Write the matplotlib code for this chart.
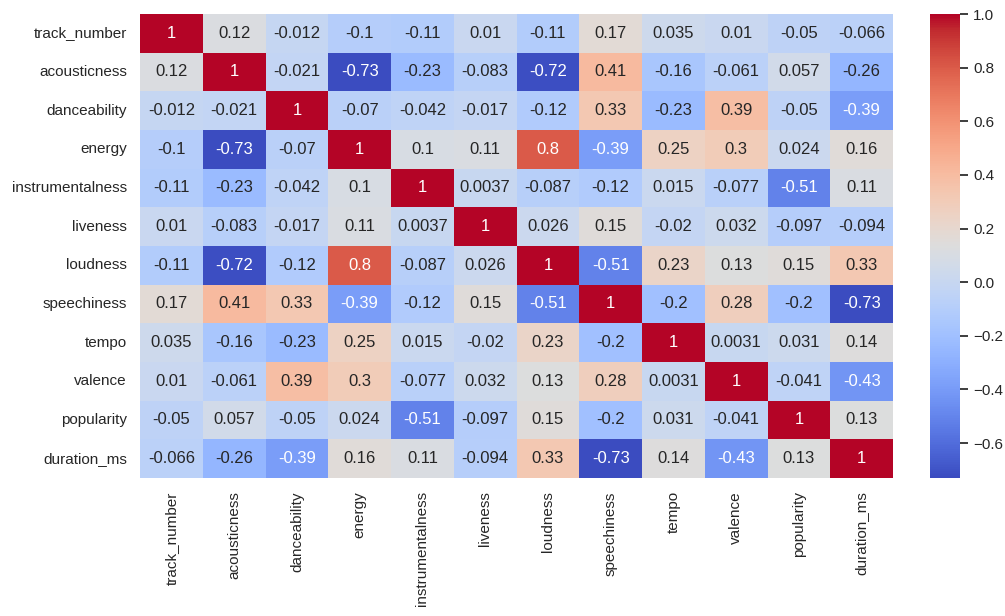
import matplotlib
matplotlib.use("Agg")
import matplotlib.pyplot as plt
import numpy as np
import pandas as pd
import seaborn as sns

features = ["track_number", "acousticness", "danceability", "energy",
            "instrumentalness", "liveness", "loudness", "speechiness",
            "tempo", "valence", "popularity", "duration_ms"]

track_number = [1, 0.12, -0.012, -0.1, -0.11, 0.01, -0.11, 0.17, 0.035, 0.01, -0.05, -0.066]
acousticness = [0.12, 1, -0.021, -0.73, -0.23, -0.083, -0.72, 0.41, -0.16, -0.061, 0.057, -0.26]
danceability = [-0.012, -0.021, 1, -0.07, -0.042, -0.017, -0.12, 0.33, -0.23, 0.39, -0.05, -0.39]
energy = [-0.1, -0.73, -0.07, 1, 0.1, 0.11, 0.8, -0.39, 0.25, 0.3, 0.024, 0.16]
instrumentalness = [-0.11, -0.23, -0.042, 0.1, 1, 0.0037, -0.087, -0.12, 0.015, -0.077, -0.51, 0.11]
liveness = [0.01, -0.083, -0.017, 0.11, 0.0037, 1, 0.026, 0.15, -0.02, 0.032, -0.097, -0.094]
loudness = [-0.11, -0.72, -0.12, 0.8, -0.087, 0.026, 1, -0.51, 0.23, 0.13, 0.15, 0.33]
speechiness = [0.17, 0.41, 0.33, -0.39, -0.12, 0.15, -0.51, 1, -0.2, 0.28, -0.2, -0.73]
tempo = [0.035, -0.16, -0.23, 0.25, 0.015, -0.02, 0.23, -0.2, 1, 0.0031, 0.031, 0.14]
valence = [0.01, -0.061, 0.39, 0.3, -0.077, 0.032, 0.13, 0.28, 0.0031, 1, -0.041, -0.43]
popularity = [-0.05, 0.057, -0.05, 0.024, -0.51, -0.097, 0.15, -0.2, 0.031, -0.041, 1, 0.13]
duration_ms = [-0.066, -0.26, -0.39, 0.16, 0.11, -0.094, 0.33, -0.73, 0.14, -0.43, 0.13, 1]

rows = [track_number, acousticness, danceability, energy, instrumentalness,
        liveness, loudness, speechiness, tempo, valence, popularity, duration_ms]
corr = pd.DataFrame(rows, index=features, columns=features)

sns.set_theme()
plt.rcParams['font.family'] = ['Liberation Sans', 'DejaVu Sans']

fig = plt.figure(figsize=(10.05, 6.16), dpi=100)
ax = fig.add_axes([140 / 1005, 1 - 478 / 616, 753 / 1005, 464 / 616])
cax = fig.add_axes([930 / 1005, 1 - 478 / 616, 30 / 1005, 464 / 616])

sns.heatmap(corr, annot=True, cmap="coolwarm", ax=ax, cbar_ax=cax)

fig.savefig("out.png", dpi=100)
